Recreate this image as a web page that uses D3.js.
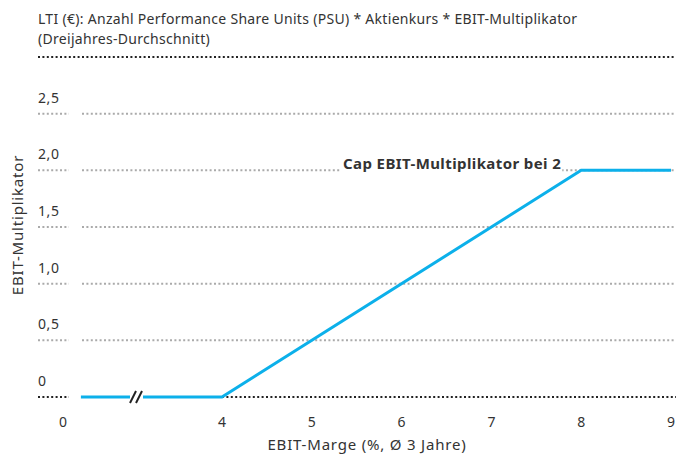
<!DOCTYPE html>
<html>
<head>
<meta charset="utf-8">
<script src="https://cdn.jsdelivr.net/npm/d3@7"></script>
<style>
  body { margin: 0; background: #fff; }
  text { font-family: "Noto Sans", sans-serif; fill: #333; }
</style>
</head>
<body>
<div id="chart"></div>
<script>
// chart data
const titleLines = ["LTI (€): Anzahl Performance Share Units (PSU) * Aktienkurs * EBIT-Multiplikator",
                    "(Dreijahres-Durchschnitt)"];
const xTicks = [0, 4, 5, 6, 7, 8, 9];
const yTicks = [0, 0.5, 1.0, 1.5, 2.0, 2.5];
const lineX = [0.45, 4, 8, 9];
const lineY = [0, 0, 2, 2];
const capLabel = "Cap EBIT-Multiplikator bei 2";

const width = 680, height = 456;
const blue = "#0cb0ea";

const svg = d3.select("#chart")
  .append("svg")
    .attr("width", width)
    .attr("height", height);

// x has a break between 0 and 4
const x = d3.scaleLinear()
  .domain([0, 4, 9])
  .range([63, 222, 671]);

const y = d3.scaleLinear()
  .domain([0, 3])
  .range([397, 57]);

// title
svg.append("g").selectAll("text")
  .data(titleLines)
  .join("text")
    .attr("x", 38)
    .attr("y", (d, i) => 24 + i * 20)
    .style("font-size", "14px")
    .style("letter-spacing", "0.3px")
    .text(d => d);

// top dotted line
svg.append("line")
  .attr("x1", 38).attr("x2", 676)
  .attr("y1", y(3)).attr("y2", y(3))
  .attr("stroke", "#222")
  .attr("stroke-width", 2)
  .attr("stroke-dasharray", "2,2.4");

// grid lines (with gap for the break)
const grid = svg.append("g");
yTicks.filter(d => d > 0).forEach(t => {
  grid.append("line")
    .attr("x1", 38).attr("x2", 69)
    .attr("y1", y(t)).attr("y2", y(t))
    .attr("stroke", "#aaa").attr("stroke-width", 2)
    .attr("stroke-dasharray", "2,2.4");
  grid.append("line")
    .attr("x1", 82).attr("x2", 676)
    .attr("y1", y(t)).attr("y2", y(t))
    .attr("stroke", "#aaa").attr("stroke-width", 2)
    .attr("stroke-dasharray", "2,2.4");
});

// baseline
svg.append("line")
  .attr("x1", 38).attr("x2", 69)
  .attr("y1", y(0)).attr("y2", y(0))
  .attr("stroke", "#222").attr("stroke-width", 2)
  .attr("stroke-dasharray", "2,2.4");
svg.append("line")
  .attr("x1", x(4)).attr("x2", 676)
  .attr("y1", y(0)).attr("y2", y(0))
  .attr("stroke", "#222").attr("stroke-width", 2)
  .attr("stroke-dasharray", "2,2.4");

// y tick labels
svg.append("g").selectAll("text")
  .data(yTicks)
  .join("text")
    .attr("x", 38)
    .attr("y", d => y(d) - 11)
    .style("font-size", "14px")
    .style("letter-spacing", "0.6px")
    .text(d => d === 0 ? "0" : d3.format(".1f")(d).replace(".", ","));

// x tick labels
svg.append("g").selectAll("text")
  .data(xTicks)
  .join("text")
    .attr("x", d => x(d))
    .attr("y", 427)
    .attr("text-anchor", "middle")
    .style("font-size", "14px")
    .text(d => d);

// axis titles
svg.append("text")
  .attr("x", 367).attr("y", 450)
  .attr("text-anchor", "middle")
  .style("font-size", "15px")
  .style("letter-spacing", "0.8px")
  .text("EBIT-Marge (%, Ø 3 Jahre)");

svg.append("text")
  .attr("transform", `translate(23, 225) rotate(-90)`)
  .attr("text-anchor", "middle")
  .style("font-size", "15px")
  .style("letter-spacing", "0.8px")
  .text("EBIT-Multiplikator");

// cap label with white knockout
const cap = svg.append("g");
const capText = cap.append("text")
  .attr("x", 343)
  .attr("y", y(2) - 1)
  .style("font-size", "15px")
  .style("font-weight", "bold")
  .style("letter-spacing", "0.4px")
  .text(capLabel);
const bb = capText.node().getBBox();
cap.insert("rect", "text")
  .attr("x", bb.x - 3).attr("y", bb.y)
  .attr("width", bb.width + 4).attr("height", bb.height)
  .attr("fill", "#fff");

// the curve
const pts = lineX.map((d, i) => [d, lineY[i]]);
const line = d3.line()
  .x(d => x(d[0]))
  .y(d => y(d[1]));

svg.append("path")
  .datum(pts)
  .attr("d", line)
  .attr("fill", "none")
  .attr("stroke", blue)
  .attr("stroke-width", 3);

// axis break marker on the line
const bx = 136, by = y(0);
svg.append("rect")
  .attr("x", bx - 6).attr("y", by - 5)
  .attr("width", 13).attr("height", 10)
  .attr("fill", "#fff");
[-3, 3].forEach(o => {
  svg.append("line")
    .attr("x1", bx + o - 3).attr("y1", by + 6)
    .attr("x2", bx + o + 3).attr("y2", by - 6)
    .attr("stroke", "#222")
    .attr("stroke-width", 2);
});
</script>
</body>
</html>
